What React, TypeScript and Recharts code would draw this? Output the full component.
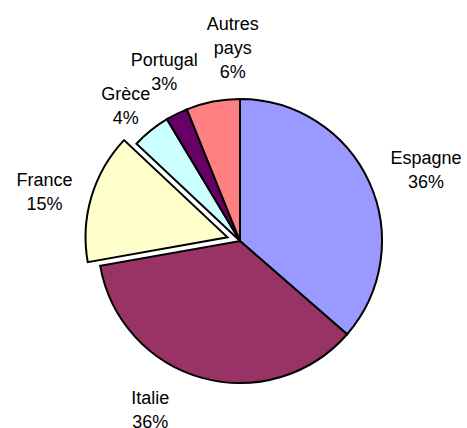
import React from 'react';
import { PieChart, Pie, Cell } from 'recharts';

const countries = ['Espagne', 'Italie', 'France', 'Grèce', 'Portugal', 'Autres pays'];
const shares = [36.4, 35.8, 14.8, 4.4, 2.5, 6.1];
const colors = ['#9999FF', '#993366', '#FFFFCC', '#CCFFFF', '#660066', '#FF8080'];

const data = countries.map((name, i) => ({ name, value: shares[i] }));

const EXPLODED = 'France';
const RADIAN = Math.PI / 180;
const CX = 240;
const CY = 241;
const OUTER = 142;
const EXPLODE_DIST = 13;
const LABEL_R = 190;
const LINE_H = 24;

// small label adjustments (Excel placed some labels by hand)
const labelNudge: Record<string, [number, number]> = {
    Espagne: [13, 7],
    Italie: [-39, -15],
    France: [-1, 8],
    'Grèce': [5, 12],
    Portugal: [9, 1],
    'Autres pays': [29, -7],
};

// explosion offset for France, from its mid angle
const total = shares.reduce((a, b) => a + b, 0);
const idx = countries.indexOf(EXPLODED);
const before = shares.slice(0, idx).reduce((a, b) => a + b, 0);
const midFromTop = ((before + shares[idx] / 2) / total) * 360;
const theta = (90 - midFromTop) * RADIAN;
const offX = EXPLODE_DIST * Math.cos(theta);
const offY = -EXPLODE_DIST * Math.sin(theta);

const makeLabel = (onlyExploded: boolean) => (props: any) => {
    const { cx, cy, midAngle, percent, name } = props;
    if ((name === EXPLODED) !== onlyExploded) return null;
    const nudge = labelNudge[name] || [0, 0];
    const x = cx + LABEL_R * Math.cos(-midAngle * RADIAN) + nudge[0];
    const y = cy + LABEL_R * Math.sin(-midAngle * RADIAN) + nudge[1];
    const lines = [...String(name).split(' '), `${Math.round(percent * 100)}%`];
    return (
        <text
            x={x}
            y={y}
            textAnchor="middle"
            fill="#000"
            fontSize={18}
            fontFamily="'Liberation Sans', Arial, sans-serif"
        >
            {lines.map((l, i) => (
                <tspan key={i} x={x} y={y + (i - (lines.length - 1) / 2) * LINE_H + 6.5}>
                    {l}
                </tspan>
            ))}
        </text>
    );
};

export default function App() {
    return (
        <div style={{ position: 'absolute', left: 0, top: 0, background: '#fff' }}>
            <PieChart width={467} height={428} margin={{ top: 0, right: 0, bottom: 0, left: 0 }}>
                <Pie
                    data={data}
                    dataKey="value"
                    nameKey="name"
                    cx={CX}
                    cy={CY}
                    outerRadius={OUTER}
                    startAngle={90}
                    endAngle={-270}
                    isAnimationActive={false}
                    labelLine={false}
                    label={makeLabel(false)}
                >
                    {data.map((d, i) => (
                        <Cell
                            key={d.name}
                            fill={d.name === EXPLODED ? 'none' : colors[i]}
                            stroke={d.name === EXPLODED ? 'none' : '#000'}
                            strokeWidth={2}
                        />
                    ))}
                </Pie>
                <Pie
                    data={data}
                    dataKey="value"
                    nameKey="name"
                    cx={CX + offX}
                    cy={CY + offY}
                    outerRadius={OUTER}
                    startAngle={90}
                    endAngle={-270}
                    isAnimationActive={false}
                    labelLine={false}
                    label={makeLabel(true)}
                >
                    {data.map((d, i) => (
                        <Cell
                            key={d.name}
                            fill={d.name === EXPLODED ? colors[i] : 'none'}
                            stroke={d.name === EXPLODED ? '#000' : 'none'}
                            strokeWidth={2}
                        />
                    ))}
                </Pie>
            </PieChart>
        </div>
    );
}
